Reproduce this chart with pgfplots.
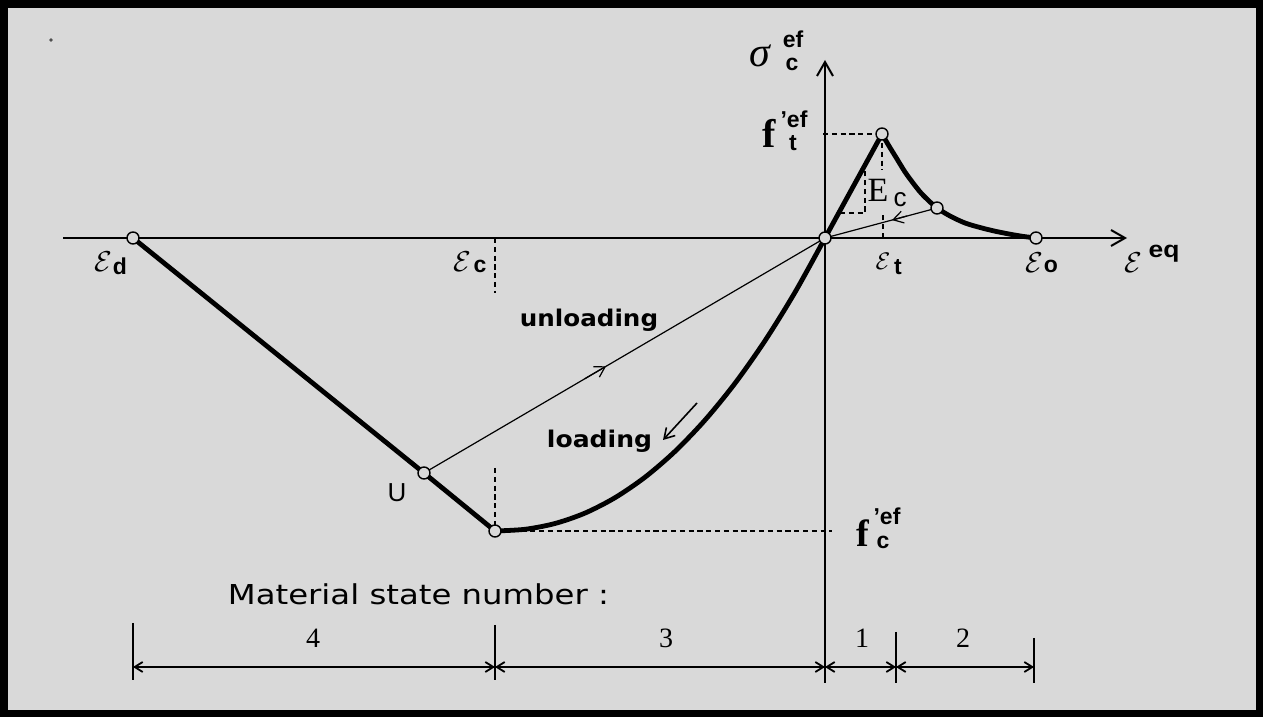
\documentclass[border=0pt]{standalone}
\usepackage{pgfplots}
\pgfplotsset{compat=1.18}
\usepackage{graphicx}
\usepackage{fontspec}
\usetikzlibrary{arrows.meta}
\setmainfont{Liberation Sans}
\newfontfamily\seriffont{Liberation Serif}
\newfontfamily\djv{DejaVu Sans}
\definecolor{panel}{RGB}{217,217,217}
\newcommand\fs[1]{\fontsize{#1}{#1}\selectfont}
\newcommand\sub[1]{{\fs{11.5}\bfseries #1}}
\newcommand\eps[1]{{\fs{#1}$\mathcal{E}$}}

\begin{document}
\begin{tikzpicture}
\begin{axis}[
  hide axis, scale only axis,
  width=631.5pt, height=358.5pt,
  xmin=-825, xmax=438, ymin=-479, ymax=238,
  clip=false,
  thickcurve/.style={black, line width=2.4pt, line join=round, line cap=round, mark=none},
  thinline/.style={black, line width=0.6pt, mark=none},
  dashline/.style={black, line width=0.8pt, dash pattern=on 2.6pt off 1.8pt, mark=none},
  axisline/.style={black, line width=1pt, mark=none},
  dimline/.style={black, line width=0.9pt, mark=none},
]
% frame and panel
\fill[black] (rel axis cs:0,0) rectangle (rel axis cs:1,1);
\fill[panel] (rel axis cs:8/1263,7/717) rectangle (rel axis cs:1256/1263,709/717);

% stray dot
\addplot[only marks, mark=*, mark size=0.6pt, draw=black!70, fill=black!70] coordinates {(-774,198)};

% axes
\addplot[axisline, -{Straight Barb[length=7pt,width=8pt]}] coordinates {(-762,0) (302,0)};
\addplot[axisline, -{Straight Barb[length=7pt,width=8pt]}] coordinates {(0,-445) (0,178)};

% dashed reference lines
\addplot[dashline] coordinates {(-330,0) (-330,-55)};
\addplot[dashline] coordinates {(-330,-230) (-330,-293)};
\addplot[dashline] coordinates {(-330,-293) (7,-293)};
\addplot[dashline] coordinates {(-2,104) (57,104)};
\addplot[dashline] coordinates {(57,95) (57,68)};
\addplot[dashline] coordinates {(15,25) (40,25) (40,68)};
\addplot[dashline] coordinates {(58,0) (58,23)};

% unloading paths
\addplot[thinline] coordinates {(-401,-235) (0,0)};
\addplot[thinline, -{Straight Barb[length=5pt,width=6pt]}] coordinates {(-240,-140.6) (-219,-128.3)};
\addplot[thinline] coordinates {(112,30) (0,0)};
\addplot[thinline, -{Straight Barb[length=5pt,width=6pt]}] coordinates {(82,22) (67,17.9)};
% loading direction
\addplot[black, line width=0.8pt, -{Straight Barb[length=5pt,width=6pt]}] coordinates {(-128,-165) (-162,-202)};

% envelope: crushing branch
\addplot[thickcurve] coordinates {(-692,0) (-401,-235) (-330,-293)};
% compression hardening branch
\addplot[thickcurve, smooth] coordinates {
  (-330,-293) (-300,-291.3) (-270,-285.5) (-240,-275.1) (-210,-259.7)
  (-180,-239.2) (-150,-213.4) (-120,-182.1) (-90,-145.3) (-60,-102.7)
  (-30,-54.3) (0,0)};
% tension: elastic branch and softening branch
\addplot[thickcurve] coordinates {(0,0) (57,104)};
\addplot[thickcurve, smooth] coordinates {
  (57,104) (64,92) (72,79) (80,66) (88,55) (96,45) (104,37) (112,30)
  (125,22) (140,15) (155,10.5) (170,6.8) (185,3.8) (198,1.6) (211,0)};

% state points
\addplot[only marks, mark=*, mark size=3pt,
  mark options={draw=black, fill=panel, line width=0.7pt}] coordinates {
  (-692,0) (-401,-235) (-330,-293) (0,0) (57,104) (112,30) (211,0)};

% material state dimension lines
\addplot[dimline] coordinates {(-692,-385) (-692,-442)};
\addplot[dimline] coordinates {(-330,-387) (-330,-442)};
\addplot[dimline] coordinates {(71,-394) (71,-445)};
\addplot[dimline] coordinates {(209,-400) (209,-445)};
\addplot[dimline, {Straight Barb[length=4pt,width=5pt]}-{Straight Barb[length=4pt,width=5pt]}] coordinates {(-692,-429) (-330,-429)};
\addplot[dimline, {Straight Barb[length=4pt,width=5pt]}-{Straight Barb[length=4pt,width=5pt]}] coordinates {(-330,-429) (0,-429)};
\addplot[dimline, {Straight Barb[length=4pt,width=5pt]}-{Straight Barb[length=4pt,width=5pt]}] coordinates {(0,-429) (71,-429)};
\addplot[dimline, {Straight Barb[length=4pt,width=5pt]}-{Straight Barb[length=4pt,width=5pt]}] coordinates {(71,-429) (209,-429)};

% labels
\node[anchor=base, inner sep=0pt] at (axis cs:-65,171) {\seriffont\itshape\fs{21}σ};
\node[anchor=base, inner sep=0pt] at (axis cs:-32,190) {\sub{ef}};
\node[anchor=base, inner sep=0pt] at (axis cs:-33,167) {\sub{c}};

\node[anchor=base, inner sep=0pt] at (axis cs:-56,90) {\seriffont\bfseries\fs{20}f};
\node[anchor=base, inner sep=0pt] at (axis cs:-31,110) {\sub{’ef}};
\node[anchor=base, inner sep=0pt] at (axis cs:-32,87) {\sub{t}};

\node[anchor=base, inner sep=0pt] at (axis cs:38,-309) {\seriffont\bfseries\fs{19}f};
\node[anchor=base, inner sep=0pt] at (axis cs:62,-287) {\sub{’ef}};
\node[anchor=base, inner sep=0pt] at (axis cs:58,-311) {\sub{c}};

\node[anchor=base, inner sep=0pt] at (axis cs:53,36) {\seriffont\fs{17}E};
\node[anchor=base, inner sep=0pt] at (axis cs:75,31) {\fs{13}c};

\node[anchor=base, inner sep=0pt] at (axis cs:-722,-34) {\eps{15}};
\node[anchor=base, inner sep=0pt] at (axis cs:-705,-37) {\sub{d}};
\node[anchor=base, inner sep=0pt] at (axis cs:-363,-34) {\eps{15}};
\node[anchor=base, inner sep=0pt] at (axis cs:-345,-35) {\sub{c}};
\node[anchor=base, inner sep=0pt] at (axis cs:58,-32) {\eps{13}};
\node[anchor=base, inner sep=0pt] at (axis cs:73,-37) {\sub{t}};
\node[anchor=base, inner sep=0pt] at (axis cs:209,-35) {\eps{14.5}};
\node[anchor=base, inner sep=0pt] at (axis cs:226,-35) {\sub{o}};
\node[anchor=base, inner sep=0pt] at (axis cs:308,-35) {\eps{14.5}};
\node[anchor=base, inner sep=0pt] at (axis cs:339,-20) {\scalebox{1.15}[1]{\sub{eq}}};

\node[anchor=base, inner sep=0pt] at (axis cs:-236,-89) {\scalebox{1.07}[1]{\djv\bfseries\fs{11.5}unloading}};
\node[anchor=base, inner sep=0pt] at (axis cs:-225.5,-210) {\scalebox{1.09}[1]{\djv\bfseries\fs{11.5}loading}};
\node[anchor=base, inner sep=0pt] at (axis cs:-428,-264) {\fs{13}U};

\node[anchor=base, inner sep=0pt] at (axis cs:-406.5,-367) {\scalebox{1.18}[1]{\djv\fs{13.7}Material state number :}};
\node[anchor=base, inner sep=0pt] at (axis cs:-512,-410) {\seriffont\fs{14}4};
\node[anchor=base, inner sep=0pt] at (axis cs:-159,-410) {\seriffont\fs{14}3};
\node[anchor=base, inner sep=0pt] at (axis cs:37,-410) {\seriffont\fs{14}1};
\node[anchor=base, inner sep=0pt] at (axis cs:138,-410) {\seriffont\fs{14}2};
\end{axis}
\end{tikzpicture}
\end{document}
